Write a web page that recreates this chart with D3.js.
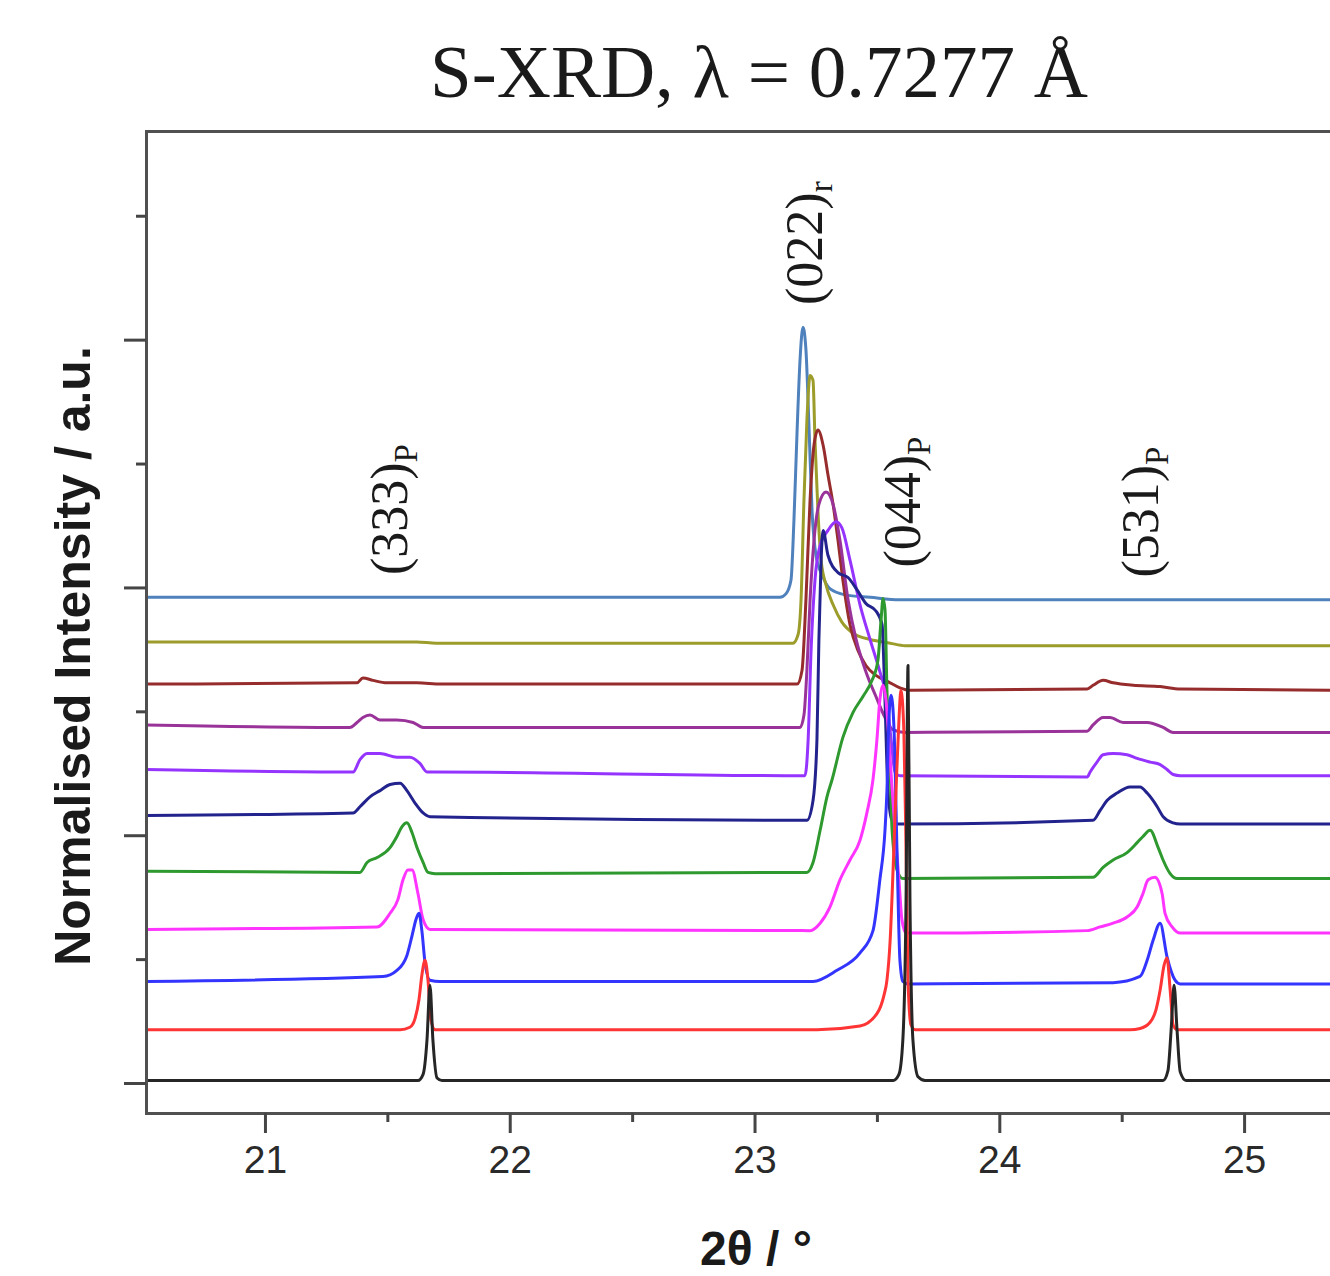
<!DOCTYPE html>
<html>
<head>
<meta charset="utf-8">
<script src="https://cdn.jsdelivr.net/npm/d3@7/dist/d3.min.js"></script>
<style>
  body { margin: 0; background: #fff; }
  .axis .domain { stroke: #505050; stroke-width: 3; stroke-linecap: square; }
  .axis .tick line { stroke: #454545; stroke-width: 3; }
  .axis text { font-family: "Liberation Sans", Arial, sans-serif; font-size: 39px; fill: #2a2a2a; }
</style>
</head>
<body>
<script>
// S-XRD patterns: [2theta (deg), stacked normalised intensity]
var traceBlack = [[20.514,0.02],[21.625,0.02],[21.646,0.07],[21.662,0.35],[21.674,0.79],[21.686,0.35],[21.703,0.04],[21.723,0.02],
  [23.566,0.02],[23.590,0.07],[23.606,0.35],[23.619,1.48],[23.627,3.37],[23.635,1.48],[23.647,0.35],[23.668,0.05],[23.697,0.02],
  [24.669,0.02],[24.689,0.10],[24.702,0.43],[24.714,0.79],[24.726,0.43],[24.739,0.09],[24.763,0.02],[25.40,0.02]];
var traceRed = [[20.514,0.43],[21.552,0.43],[21.592,0.45],[21.613,0.52],[21.629,0.67],[21.641,0.87],[21.654,0.99],[21.666,0.83],[21.678,0.51],[21.695,0.43],
  [23.255,0.43],[23.431,0.46],[23.500,0.56],[23.529,0.71],[23.541,0.83],[23.554,1.15],[23.566,1.72],[23.578,2.36],[23.590,2.93],[23.598,3.17],[23.610,2.85],[23.619,1.88],[23.627,0.83],[23.639,0.47],[23.656,0.43],
  [24.534,0.43],[24.575,0.44],[24.616,0.49],[24.640,0.59],[24.657,0.75],[24.673,0.95],[24.685,1.01],[24.698,0.75],[24.710,0.47],[24.726,0.43],[25.40,0.43]];
var traceBlue = [[20.514,0.82],[21.482,0.86],[21.539,0.91],[21.580,1.03],[21.601,1.19],[21.617,1.32],[21.629,1.37],[21.641,1.23],[21.654,0.97],[21.674,0.83],[21.715,0.82],
  [23.239,0.82],[23.337,0.91],[23.431,1.05],[23.484,1.23],[23.512,1.64],[23.533,2.04],[23.541,2.36],[23.549,2.93],[23.558,3.13],[23.570,2.85],[23.582,1.88],[23.594,0.99],[23.606,0.82],[23.627,0.80],
  [24.465,0.81],[24.575,0.86],[24.604,0.99],[24.628,1.15],[24.657,1.29],[24.685,1.02],[24.718,0.83],[24.739,0.80],[25.40,0.80]];
var traceMagenta = [[20.514,1.24],[21.458,1.26],[21.511,1.37],[21.543,1.48],[21.564,1.64],[21.584,1.72],[21.601,1.72],[21.625,1.53],[21.646,1.32],[21.674,1.24],
  [23.227,1.23],[23.268,1.29],[23.308,1.42],[23.349,1.64],[23.390,1.80],[23.431,1.96],[23.459,2.18],[23.484,2.45],[23.500,2.77],[23.512,3.09],[23.525,3.21],[23.537,3.09],[23.554,2.61],[23.574,2.04],[23.590,1.64],[23.602,1.32],[23.619,1.21],
  [24.359,1.23],[24.412,1.26],[24.465,1.29],[24.522,1.34],[24.563,1.42],[24.587,1.53],[24.608,1.64],[24.636,1.66],[24.665,1.53],[24.677,1.37],[24.706,1.26],[24.739,1.21],[25.40,1.21]];
var traceGreen = [[20.514,1.71],[21.388,1.70],[21.417,1.78],[21.458,1.82],[21.511,1.90],[21.539,1.99],[21.560,2.07],[21.580,2.10],[21.601,2.02],[21.621,1.90],[21.646,1.78],[21.666,1.70],[21.695,1.69],
  [23.214,1.70],[23.239,1.78],[23.268,2.04],[23.296,2.31],[23.317,2.45],[23.361,2.79],[23.402,2.99],[23.443,3.12],[23.480,3.25],[23.504,3.41],[23.517,3.74],[23.525,3.91],[23.533,3.82],[23.541,3.17],[23.554,2.53],[23.562,2.04],[23.582,1.72],[23.606,1.65],
  [24.383,1.66],[24.424,1.74],[24.465,1.80],[24.522,1.86],[24.563,1.94],[24.587,1.99],[24.616,2.04],[24.649,1.90],[24.669,1.80],[24.698,1.69],[24.726,1.65],[25.40,1.65]];
var traceNavy = [[20.514,2.16],[21.360,2.18],[21.388,2.23],[21.429,2.31],[21.470,2.36],[21.511,2.41],[21.552,2.42],[21.580,2.36],[21.613,2.26],[21.646,2.18],[21.674,2.15],
  [23.214,2.12],[23.239,2.28],[23.255,2.77],[23.263,3.58],[23.272,4.22],[23.280,4.46],[23.300,4.26],[23.341,4.12],[23.382,4.08],[23.419,3.98],[23.455,3.87],[23.496,3.81],[23.521,3.70],[23.533,3.09],[23.545,2.36],[23.562,2.12],[23.586,2.09],
  [24.383,2.12],[24.412,2.20],[24.440,2.28],[24.481,2.34],[24.534,2.39],[24.575,2.39],[24.604,2.34],[24.645,2.23],[24.669,2.15],[24.710,2.10],[24.739,2.09],[25.40,2.09]];
var traceViolet = [[20.514,2.53],[21.360,2.51],[21.388,2.61],[21.417,2.66],[21.470,2.66],[21.539,2.63],[21.592,2.63],[21.633,2.58],[21.662,2.51],[21.695,2.51],
  [23.206,2.48],[23.219,2.77],[23.231,3.49],[23.247,4.06],[23.268,4.34],[23.300,4.46],[23.333,4.53],[23.357,4.48],[23.390,4.22],[23.431,3.86],[23.472,3.58],[23.512,3.32],[23.541,3.09],[23.558,2.77],[23.574,2.51],[23.594,2.48],
  [24.359,2.47],[24.371,2.51],[24.399,2.59],[24.424,2.65],[24.465,2.66],[24.522,2.65],[24.563,2.62],[24.616,2.59],[24.657,2.57],[24.685,2.53],[24.710,2.49],[24.740,2.48],[25.40,2.48]];
var tracePurple = [[20.514,2.89],[21.347,2.87],[21.376,2.91],[21.400,2.95],[21.429,2.97],[21.470,2.93],[21.539,2.93],[21.605,2.91],[21.646,2.87],[21.715,2.87],
  [23.186,2.87],[23.202,2.97],[23.214,3.33],[23.227,3.90],[23.243,4.38],[23.263,4.67],[23.292,4.77],[23.321,4.67],[23.349,4.38],[23.382,3.90],[23.415,3.58],[23.455,3.32],[23.496,3.12],[23.533,2.95],[23.566,2.85],[23.615,2.83],
  [24.359,2.84],[24.383,2.89],[24.424,2.95],[24.452,2.95],[24.506,2.91],[24.604,2.91],[24.669,2.87],[24.710,2.83],[25.40,2.83]];
var traceMaroon = [[20.514,3.22],[21.376,3.23],[21.400,3.27],[21.441,3.25],[21.498,3.23],[21.621,3.23],[21.720,3.22],
  [23.174,3.22],[23.194,3.33],[23.210,3.90],[23.227,4.71],[23.243,5.15],[23.259,5.27],[23.280,5.15],[23.300,4.91],[23.321,4.67],[23.341,4.38],[23.361,4.06],[23.390,3.70],[23.423,3.49],[23.455,3.37],[23.496,3.29],[23.545,3.24],[23.594,3.19],[23.635,3.17],
  [24.359,3.18],[24.383,3.21],[24.424,3.25],[24.465,3.23],[24.547,3.21],[24.657,3.20],[24.739,3.18],[25.40,3.17]];
var traceOlive = [[20.514,3.56],[21.620,3.56],[21.700,3.55],
  [23.157,3.55],[23.178,3.62],[23.190,3.90],[23.202,4.71],[23.214,5.35],[23.227,5.71],[23.239,5.67],[23.247,5.19],[23.259,4.62],[23.272,4.22],[23.292,4.02],[23.321,3.86],[23.357,3.72],[23.411,3.62],[23.472,3.58],[23.554,3.55],[23.615,3.53],[25.40,3.53]];
var traceSteel = [[20.514,3.92],[23.104,3.92],[23.129,3.95],[23.149,4.06],[23.161,4.54],[23.174,5.27],[23.186,5.84],[23.198,6.10],[23.210,5.92],[23.223,5.27],[23.235,4.62],[23.251,4.26],[23.276,4.10],[23.308,3.99],[23.370,3.94],[23.472,3.92],[23.594,3.90],[25.40,3.90]];

var traces = [traceBlack, traceRed, traceBlue, traceMagenta, traceGreen, traceNavy, traceViolet, tracePurple, traceMaroon, traceOlive, traceSteel];
var colors = ["#262626", "#ff3434", "#3434ff", "#ff34ff", "#2e992e", "#23238e", "#9634ff", "#993399", "#962c2c", "#9c9c2a", "#4f81bd"];

var xMajor = [21, 22, 23, 24, 25];
var xMinor = [21.5, 22.5, 23.5, 24.5];
var yMajor = [0, 2, 4, 6];
var yMinor = [1, 3, 5, 7];

var peakNames = ["(333)", "(022)", "(044)", "(531)"];
var peakSubs = ["P", "r", "P", "P"];

var width = 1330, height = 1276;

var svg = d3.select("body").append("svg")
  .attr("width", width)
  .attr("height", height);

//Scales (the frame runs past the right edge of the picture)
var x = d3.scaleLinear().domain([20.514, 25.4]).range([146, 1342]);
var y = d3.scaleLinear().domain([-0.242, 7.684]).range([1113, 131]);

svg.append("clipPath").attr("id", "plotclip")
  .append("rect")
  .attr("x", x.range()[0]).attr("y", y.range()[1])
  .attr("width", x.range()[1] - x.range()[0])
  .attr("height", y.range()[0] - y.range()[1]);

var line = d3.line()
  .x(function (d) { return x(d[0]); })
  .y(function (d) { return y(d[1]); })
  .curve(d3.curveMonotoneX);

//Draw top pattern first so the lower ones sit on top
var plot = svg.append("g").attr("clip-path", "url(#plotclip)");
traces.slice().reverse().forEach(function (t, i) {
  var c = colors[traces.length - 1 - i];
  plot.append("path")
    .datum(t)
    .attr("d", line)
    .attr("fill", "none")
    .attr("stroke", c)
    .attr("stroke-width", 3)
    .attr("stroke-linejoin", "round");
});

//Axes
svg.append("g").attr("class", "axis")
  .attr("transform", "translate(0," + y.range()[0] + ")")
  .call(d3.axisBottom(x).tickValues(xMajor).tickSize(20).tickPadding(12).tickSizeOuter(0).tickFormat(d3.format("d")));
svg.append("g").attr("class", "axis minor")
  .attr("transform", "translate(0," + y.range()[0] + ")")
  .call(d3.axisBottom(x).tickValues(xMinor).tickSize(9).tickFormat(""))
  .select(".domain").remove();

svg.append("g").attr("class", "axis")
  .attr("transform", "translate(" + x.range()[0] + ",0)")
  .call(d3.axisLeft(y).tickValues(yMajor).tickSize(22).tickSizeOuter(0).tickFormat(""));
svg.append("g").attr("class", "axis minor")
  .attr("transform", "translate(" + x.range()[0] + ",0)")
  .call(d3.axisLeft(y).tickValues(yMinor).tickSize(10).tickFormat(""))
  .select(".domain").remove();

svg.append("g").attr("class", "axis")
  .attr("transform", "translate(0," + y.range()[1] + ")")
  .call(d3.axisTop(x).tickValues([]).tickSizeOuter(0));

//Peak labels, rotated, placed in data coordinates
var labelAt = [[21.58, 4.10], [23.276, 6.28], [23.676, 4.16], [24.649, 4.08]];
peakNames.forEach(function (name, i) {
  var t = svg.append("text")
    .attr("transform", "translate(" + x(labelAt[i][0]) + "," + y(labelAt[i][1]) + ") rotate(-90)")
    .style("font-family", "'Liberation Serif', 'Times New Roman', serif")
    .style("font-size", "52px")
    .attr("fill", "#1a1a1a");
  t.append("tspan").text(name);
  t.append("tspan").attr("dy", 10).style("font-size", "33px").text(peakSubs[i]);
});

//Title and axis titles
svg.append("text")
  .attr("x", 759).attr("y", 97)
  .attr("text-anchor", "middle")
  .style("font-family", "'Liberation Serif', 'Times New Roman', serif")
  .style("font-size", "75px")
  .attr("fill", "#1a1a1a")
  .text("S-XRD, \u03bb = 0.7277 \u00c5");

svg.append("text")
  .attr("transform", "translate(90,656) rotate(-90)")
  .attr("text-anchor", "middle")
  .style("font-family", "'Liberation Sans', Arial, sans-serif")
  .style("font-weight", "bold")
  .style("font-size", "50px")
  .attr("fill", "#1a1a1a")
  .text("Normalised Intensity / a.u.");

svg.append("text")
  .attr("x", 756).attr("y", 1265)
  .attr("text-anchor", "middle")
  .style("font-family", "'Liberation Sans', Arial, sans-serif")
  .style("font-weight", "bold")
  .style("font-size", "48px")
  .attr("fill", "#1a1a1a")
  .text("2\u03b8 / \u00b0");
</script>
</body>
</html>
